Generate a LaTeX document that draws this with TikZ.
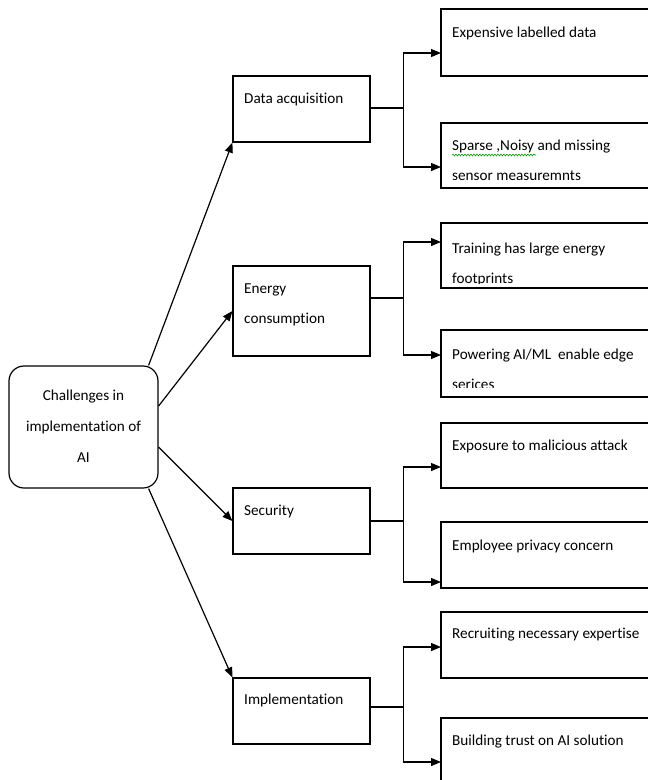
\documentclass[tikz,border=0pt]{standalone}
\usepackage{fontspec}
\setmainfont{Carlito}[Ligatures={NoCommon,NoContextual}]
\usetikzlibrary{arrows.meta,decorations.pathmorphing}
\begin{document}
\begin{tikzpicture}[x=1pt,y=-1pt,
  box/.style={draw,line width=1.2pt,inner sep=0pt,fill=none},
  txt/.style={anchor=base west,inner sep=0pt,font=\fontsize{15.2}{18}\selectfont},
  ctxt/.style={anchor=base,inner sep=0pt,font=\fontsize{15.2}{18}\selectfont},
  ln/.style={line width=1.2pt},
  arr/.style={line width=1.2pt,-{Triangle[length=10pt,width=8pt]}}]
\useasboundingbox (0,0) rectangle (648,780);
\begin{scope}
\clip (0,0) rectangle (648,780);
% root
\node[box,rounded corners=15pt,minimum width=149pt,minimum height=122pt] (root) at (83.5,427) {};
\node[ctxt] (r1) at (83.5,400) {Challenges in};
\node[ctxt] (r2) at (83.5,431) {implementation of};
\node[ctxt] (r3) at (83.5,462) {AI};
% left column boxes
\node[box,minimum width=137pt,minimum height=66pt] (A) at (301.5,109) {};
\node[txt] (At) at (244,103) {Data acquisition};
\node[box,minimum width=137pt,minimum height=90pt] (B) at (301.5,311) {};
\node[txt] (Bt1) at (244,293) {Energy};
\node[txt] (Bt2) at (244,323) {consumption};
\node[box,minimum width=137pt,minimum height=66pt] (C) at (301.5,521) {};
\node[txt] (Ct) at (244,515) {Security};
\node[box,minimum width=137pt,minimum height=66pt] (D) at (301.5,711) {};
\node[txt] (Dt) at (244,704) {Implementation};
% right column boxes
\node[box,minimum width=219pt,minimum height=67pt] (R1) at (550.5,42.5) {};
\node[txt] (R1t) at (452,37) {Expensive labelled data};
\node[box,minimum width=219pt,minimum height=65pt] (R2) at (550.5,155.5) {};
\node[txt] (R2t1) at (452,150) {Sparse ,Noisy and missing};
\node[txt] (R2t2) at (452,180) {sensor measuremnts};
\draw[green!60!black,line width=0.6pt,decorate,decoration={snake,amplitude=0.9pt,segment length=3pt}] (452,155) -- (536,155);
\node[box,minimum width=219pt,minimum height=65pt] (R3) at (550.5,255.5) {};
\node[txt] (R3t1) at (452,253) {Training has large energy};
\begin{scope}
\clip (441,260) rectangle (648,283.5);
\node[txt] (R3t2) at (452,283.5) {footprints};
\end{scope}
\node[box,minimum width=219pt,minimum height=67pt] (R4) at (550.5,363.5) {};
\node[txt] (R4t1) at (452,359) {Powering AI/ML\ \ enable edge};
\begin{scope}
\clip (441,365) rectangle (648,387);
\node[txt] (R4t2) at (452,389) {serices};
\end{scope}
\node[box,minimum width=219pt,minimum height=65pt] (R5) at (550.5,455.5) {};
\node[txt] (R5t) at (452,450) {Exposure to malicious attack};
\node[box,minimum width=219pt,minimum height=66pt] (R6) at (550.5,555) {};
\node[txt] (R6t) at (452,550) {Employee privacy concern};
\node[box,minimum width=219pt,minimum height=66pt] (R7) at (550.5,645) {};
\node[txt] (R7t) at (452,638) {Recruiting necessary expertise};
\node[box,minimum width=219pt,minimum height=72pt] (R8) at (550.5,754) {};
\node[txt] (R8t) at (452,745) {Building trust on AI solution};
% arrow targets
\coordinate (t1) at (441,53);
\coordinate (t2) at (441,167);
\coordinate (t3) at (441,242);
\coordinate (t4) at (441,355);
\coordinate (t5) at (441,467);
\coordinate (t6) at (441,582);
\coordinate (t7) at (441,647);
\coordinate (t8) at (441,762);
% root to left boxes
\draw[arr] ([xshift=-10pt]root.north east) -- (A.south west);
\draw[arr] ([yshift=21pt]root.east) -- (B.west);
\draw[arr] ([yshift=-20pt]root.east) -- (C.west);
\draw[arr] ([xshift=-10pt]root.south east) -- (D.north west);
% forks
\draw[arr] ([yshift=1pt]A.east) -- ++(33,0) |- (t1);
\draw[arr] ([yshift=1pt]A.east) -- ++(33,0) |- (t2);
\draw[arr] ([yshift=13pt]B.east) -- ++(33,0) |- (t3);
\draw[arr] ([yshift=13pt]B.east) -- ++(33,0) |- (t4);
\draw[arr] (C.east) -- ++(33,0) |- (t5);
\draw[arr] (C.east) -- ++(33,0) |- (t6);
\draw[arr] ([yshift=4pt]D.east) -- ++(33,0) |- (t7);
\draw[arr] ([yshift=4pt]D.east) -- ++(33,0) |- (t8);
\end{scope}
\end{tikzpicture}
\end{document}
